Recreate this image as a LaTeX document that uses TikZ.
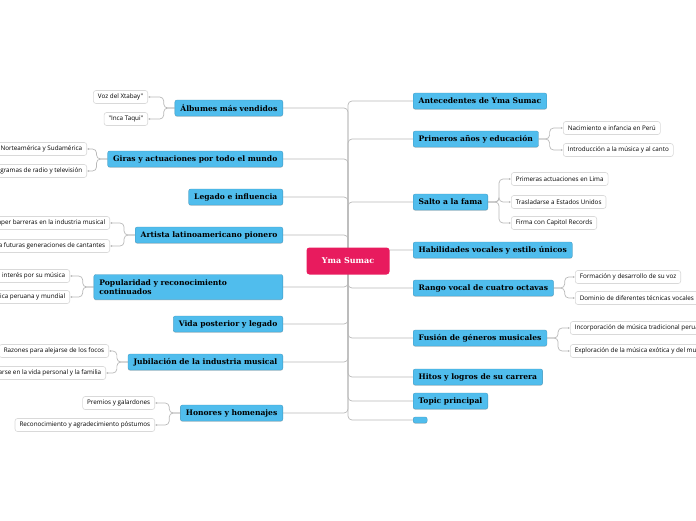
\documentclass[tikz,border=0pt]{standalone}
\usepackage{fontspec}
\setmainfont{DejaVu Serif}
\newfontfamily\subfont{Open Sans}
\usetikzlibrary{arrows.meta,backgrounds,shadows}

\definecolor{topicblue}{RGB}{80,189,237}
\definecolor{rootred}{RGB}{232,27,94}

\tikzset{
  root/.style={fill=rootred, text=white, rounded corners=3pt,
    font=\bfseries\fontsize{8}{9}\selectfont, minimum width=83, minimum height=27},
  topic/.style={fill=topicblue, draw=topicblue!80!black, line width=0.3pt,
    rounded corners=2pt, font=\bfseries\fontsize{7.6}{8.6}\selectfont,
    inner xsep=5.5, inner ysep=0, minimum height=16,
    drop shadow={shadow xshift=0pt, shadow yshift=-0.8pt, fill=black!40, opacity=0.4}},
  sub/.style={fill=white, draw=gray!30, line width=0.6pt, rounded corners=2.5pt,
    font=\subfont\fontsize{6.3}{7}\selectfont, inner xsep=4.5, inner ysep=0, minimum height=13},
  link/.style={gray!55, line width=0.7pt, rounded corners=4pt},
  sublink/.style={link, -{Latex[length=2pt,width=2pt]}}
}

\begin{document}
\begin{tikzpicture}[x=1pt,y=-1pt]
    \useasboundingbox (0,0) rectangle (696,520);

    \node[root] (yma) at (348,261) {Yma Sumac};

    \node[topic, anchor=west] (antec) at (413,101) {Antecedentes de Yma Sumac};
    \node[topic, anchor=west] (primeros) at (413,139) {Primeros años y educación};
    \node[topic, anchor=west] (salto) at (413,202) {Salto a la fama};
    \node[topic, anchor=west] (habil) at (413,250) {Habilidades vocales y estilo únicos};
    \node[topic, anchor=west] (rango) at (413,288) {Rango vocal de cuatro octavas};
    \node[topic, anchor=west] (fusion) at (413,338) {Fusión de géneros musicales};
    \node[topic, anchor=west] (hitos) at (413,377) {Hitos y logros de su carrera};
    \node[topic, anchor=west] (tprin) at (413,401) {Topic principal};
    \node[topic, anchor=west, minimum width=14, minimum height=6] (vacio) at (413,420) {};

    \node[topic, anchor=east] (album) at (283,108) {Álbumes más vendidos};
    \node[topic, anchor=east] (giras) at (283,159) {Giras y actuaciones por todo el mundo};
    \node[topic, anchor=east] (legado) at (283,197) {Legado e influencia};
    \node[topic, anchor=east] (artista) at (283,235) {Artista latinoamericano pionero};
    \node[topic, anchor=east, text width=178, align=left, minimum height=25] (popul) at (283,287)
        {Popularidad y reconocimiento\\continuados};
    \node[topic, anchor=east] (vida) at (283,324) {Vida posterior y legado};
    \node[topic, anchor=east] (jubil) at (283,362) {Jubilación de la industria musical};
    \node[topic, anchor=east] (honores) at (283,413) {Honores y homenajes};

    \node[sub, anchor=west] (nac) at (563,128) {Nacimiento e infancia en Perú};
    \node[sub, anchor=west] (intro) at (563,150) {Introducción a la música y al canto};
    \node[sub, anchor=west] (lima) at (511,179) {Primeras actuaciones en Lima};
    \node[sub, anchor=west] (eeuu) at (511,202) {Trasladarse a Estados Unidos};
    \node[sub, anchor=west] (capitol) at (511,223) {Firma con Capitol Records};
    \node[sub, anchor=west] (formacion) at (575,277) {Formación y desarrollo de su voz};
    \node[sub, anchor=west] (dominio) at (575,298) {Dominio de diferentes técnicas vocales};
    \node[sub, anchor=west] (incorp) at (570,328) {Incorporación de música tradicional peruana};
    \node[sub, anchor=west] (explor) at (570,351) {Exploración de la música exótica y del mundo};

    \node[sub, anchor=east] (voz) at (148,97) {Voz del Xtabay"};
    \node[sub, anchor=east] (inca) at (148,119) {"Inca Taqui"};
    \node[sub, anchor=east] (norte) at (87,149) {Giras por Norteamérica y Sudamérica};
    \node[sub, anchor=east] (radio) at (87,171) {Apariciones en programas de radio y televisión};
    \node[sub, anchor=east] (barreras) at (110,223) {Romper barreras en la industria musical};
    \node[sub, anchor=east] (generac) at (110,246) {Inspiración para futuras generaciones de cantantes};
    \node[sub, anchor=east] (interes) at (70,276) {Renovado interés por su música};
    \node[sub, anchor=east] (peruana) at (70,297) {Influencia en la música peruana y mundial};
    \node[sub, anchor=east] (focos) at (109,351) {Razones para alejarse de los focos};
    \node[sub, anchor=east] (familia) at (106,373) {Centrarse en la vida personal y la familia};
    \node[sub, anchor=east] (premios) at (155,403) {Premios y galardones};
    \node[sub, anchor=east] (postumos) at (155,425) {Reconocimiento y agradecimiento póstumos};

    \begin{scope}[on background layer]
        \foreach \t in {antec,primeros,salto,habil,rango,fusion,hitos,tprin,vacio}
            \draw[link] (yma.center) |- (\t.west);
        \foreach \t in {album,giras,legado,artista,popul,vida,jubil,honores}
            \draw[link] (yma.center) |- (\t.east);
        \foreach \p/\c in {primeros/nac,primeros/intro,salto/lima,salto/eeuu,salto/capitol,
                           rango/formacion,rango/dominio,fusion/incorp,fusion/explor}
            \draw[sublink] (\p.east) -- ++(11,0) |- (\c.west);
        \foreach \p/\c in {album/voz,album/inca,giras/norte,giras/radio,artista/barreras,
                           artista/generac,popul/interes,popul/peruana,jubil/focos,
                           jubil/familia,honores/premios,honores/postumos}
            \draw[sublink] (\p.west) -- ++(-11,0) |- (\c.east);
    \end{scope}
\end{tikzpicture}
\end{document}
